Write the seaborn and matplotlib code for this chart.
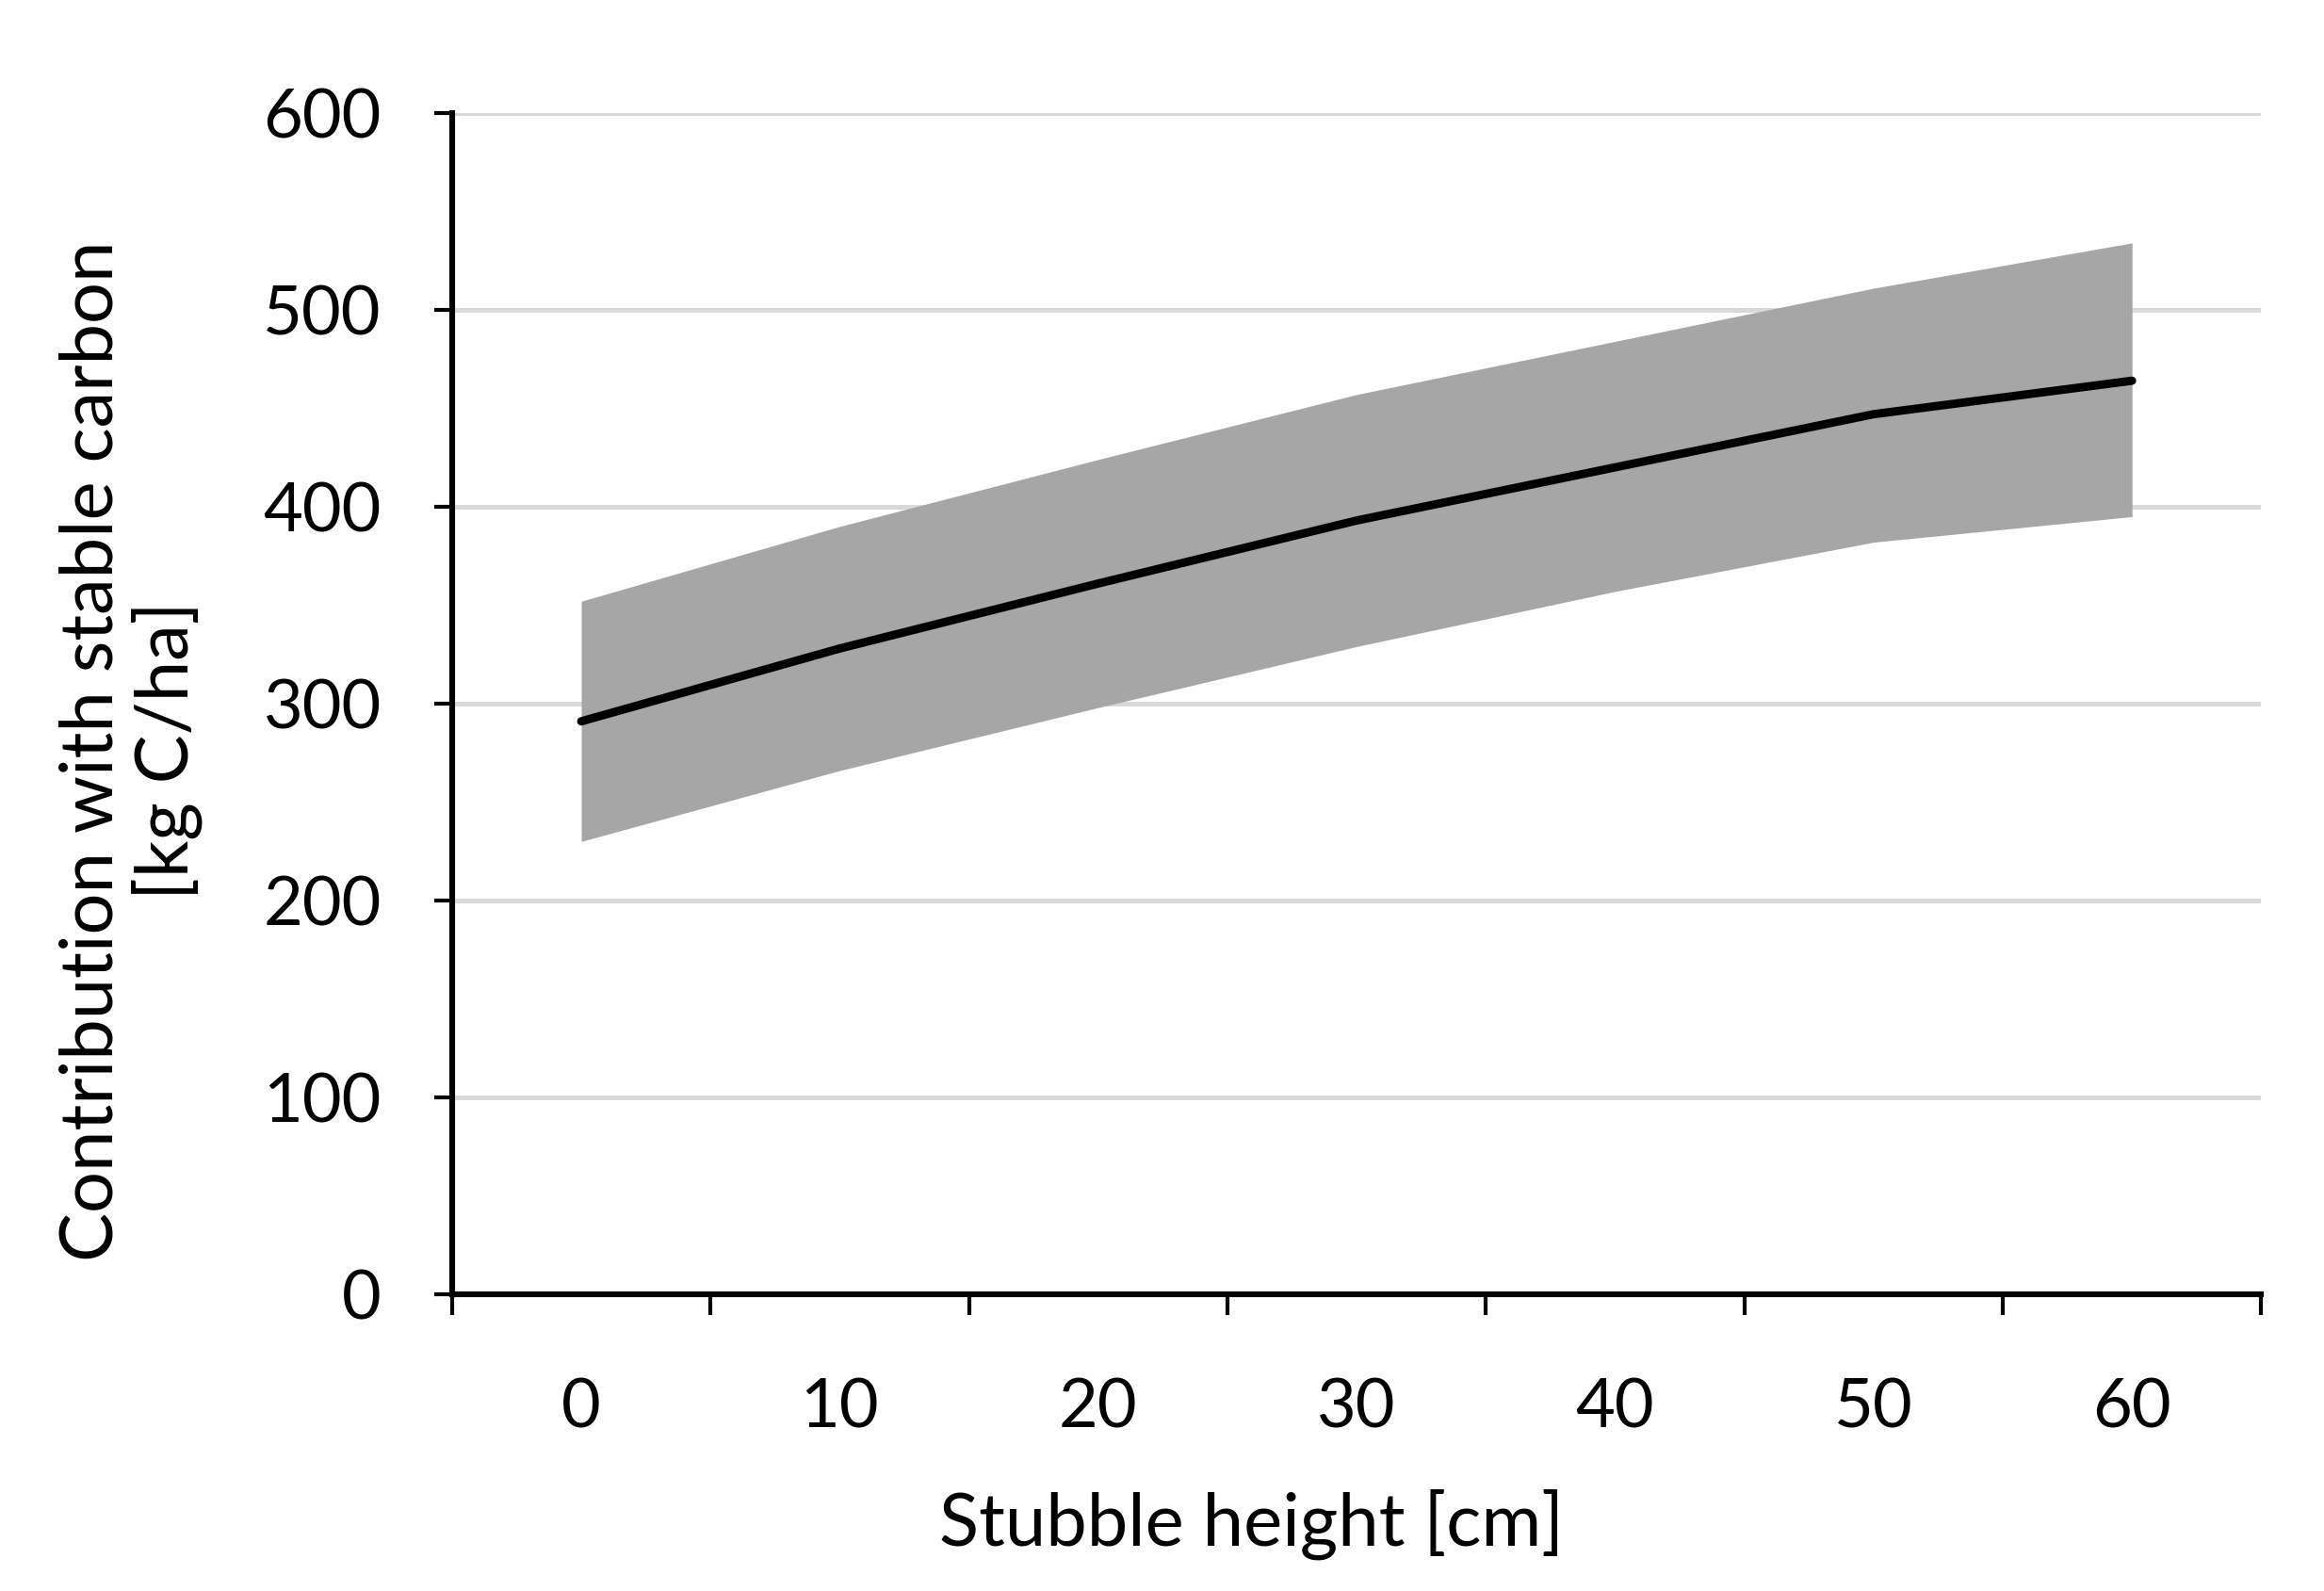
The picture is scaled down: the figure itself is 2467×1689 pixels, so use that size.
import numpy as np
import pandas as pd
import seaborn as sns
import matplotlib.pyplot as plt
from matplotlib.ticker import FixedLocator

# Values
stubble_height = [0, 10, 20, 30, 40, 50, 60]
carbon_mean = [291, 328, 361, 393, 420, 447, 464]
carbon_upper = [352, 390, 424, 457, 484, 511, 534]
carbon_lower = [230, 266, 298, 329, 357, 382, 395]
y_ticks = [0, 100, 200, 300, 400, 500, 600]

df = pd.DataFrame({'height': stubble_height, 'mean': carbon_mean,
                   'upper': carbon_upper, 'lower': carbon_lower})

sns.set_style('white', {'text.color': 'black', 'axes.labelcolor': 'black',
                        'xtick.color': 'black', 'ytick.color': 'black'})
plt.rcParams['font.family'] = ['Lato', 'DejaVu Sans']

fig = plt.figure(figsize=(2467 / 200, 1689 / 200), dpi=200)
ax = fig.add_axes([0.1945, 0.1865, 0.973 - 0.1945, 0.929 - 0.1865])

# grey band and mean line
ax.fill_between(df['height'], df['lower'], df['upper'], color='#A6A6A6', linewidth=0, zorder=2)
sns.lineplot(data=df, x='height', y='mean', color='black', linewidth=3.2, ax=ax, zorder=3)

ax.set_xlim(-5, 65)
ax.set_ylim(0, 600)
ax.set_yticks(y_ticks)
ax.yaxis.grid(True, color='#D9D9D9', linewidth=1.8, zorder=0)
ax.set_axisbelow(True)

# category style axis: tick marks between categories, labels at centres
ax.xaxis.set_major_locator(FixedLocator(np.arange(-5, 66, 10)))
ax.set_xticklabels([])
ax.xaxis.set_minor_locator(FixedLocator(stubble_height))
ax.set_xticklabels([str(h) for h in stubble_height], minor=True)
ax.tick_params(axis='x', which='major', direction='out', length=8, width=1.5, color='black', bottom=True)
ax.tick_params(axis='x', which='minor', length=0, pad=32, labelsize=26, bottom=True, labelcolor='black')
ax.tick_params(axis='y', direction='out', length=7, width=1.5, color='black', labelsize=26, left=True, pad=20,
               labelcolor='black')

for side in ['top', 'right']:
    ax.spines[side].set_visible(False)
for side in ['left', 'bottom']:
    ax.spines[side].set_color('black')
    ax.spines[side].set_linewidth(2.2)

ax.set_xlabel('Stubble height [cm]', fontsize=28, color='black')
ax.set_ylabel('Contribution with stable carbon\n[kg C/ha]', fontsize=28, linespacing=1.1, color='black')
ax.xaxis.set_label_coords(0.442, -0.165)
ax.yaxis.set_label_coords(-0.138, 0.46)

plt.savefig('out.png', dpi=200)
